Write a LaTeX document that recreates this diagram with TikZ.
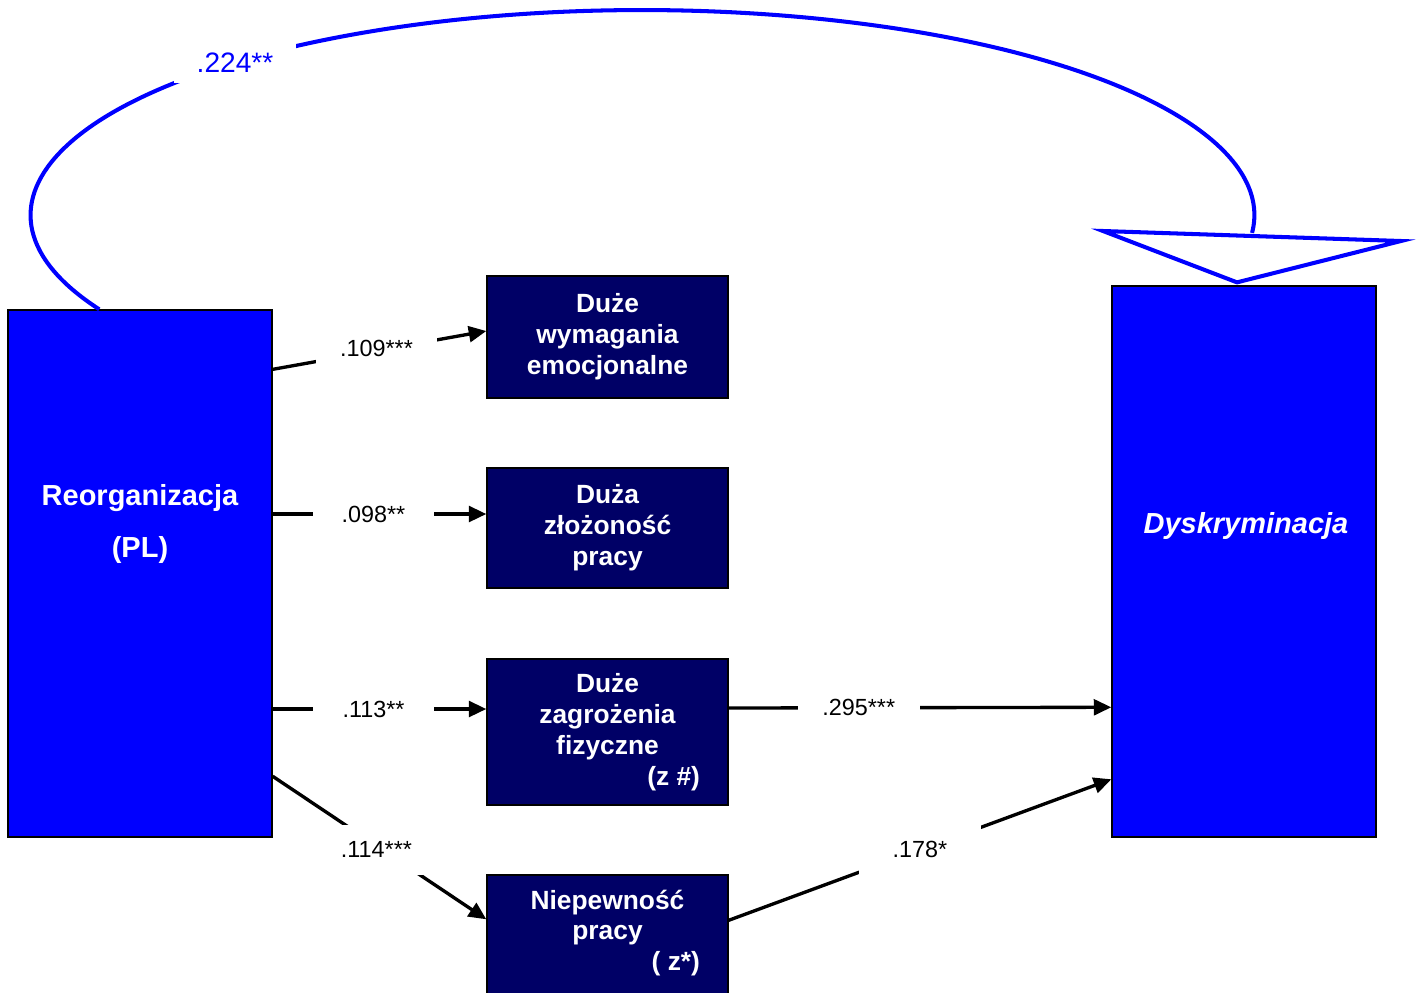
\documentclass[tikz,border=0pt]{standalone}
\usepackage{fontspec}
\setmainfont{Liberation Sans}
\usetikzlibrary{arrows.meta}
\definecolor{pureblue}{RGB}{0,0,255}
\definecolor{navybox}{RGB}{0,0,102}
\tikzset{
  bigbox/.style={draw=black, line width=0.8pt, fill=pureblue, minimum width=5.28cm, inner sep=0pt},
  smallbox/.style={draw=black, line width=0.8pt, fill=navybox, minimum width=4.82cm, inner sep=0pt,
    text=white, align=center, font=\bfseries\fontsize{15}{17.6}\selectfont},
  bigtext/.style={text=white, align=center, font=\bfseries\fontsize{16.5}{29.6}\selectfont},
  conn/.style={draw=black, line width=1.9pt, -{Triangle[length=10pt,width=9pt]}},
  coef/.style={fill=white, minimum width=2.44cm, minimum height=1cm, inner sep=0pt,
    font=\fontsize{13.3}{16}\selectfont},
  bluecoef/.style={fill=white, text=pureblue, minimum width=2.44cm, minimum height=0.8cm, inner sep=0pt,
    font=\fontsize{16}{19}\selectfont},
  bluecurve/.style={draw=pureblue, line width=2.3pt},
}
\begin{document}
\begin{tikzpicture}[x=0.02cm, y=-0.02cm]
\useasboundingbox (0,0) rectangle (1421,992);

% main variables
\node[bigbox, minimum height=10.54cm] (reorg) at (140,573.5) {};
\node[bigtext] (reorgtext) at (140,524) {Reorganizacja\\(PL)};
\node[bigbox, minimum height=11.02cm] (dysk) at (1244,561.5) {};
\node[text=white, font=\bfseries\itshape\fontsize{16.5}{20}\selectfont] (dysktext) at (1246,526) {Dyskryminacja};

% mediators
\node[smallbox, minimum height=2.44cm] (b1) at (607.5,337) {Duże\\wymagania\\emocjonalne};
\node[smallbox, minimum height=2.4cm] (b2) at (607.5,528) {Duża\\złożoność\\pracy};
\node[smallbox, minimum height=2.92cm] (b3) at (607.5,732)
  {Duże\\zagrożenia\\fizyczne\\\makebox[3.7cm][r]{(z \#)}};
\node[smallbox, minimum height=2.6cm] (b4) at (607.5,940) {};
\node[smallbox, draw=none, fill=none] (b4text) at (607.5,933)
  {Niepewność\\pracy\\\makebox[3.7cm][r]{( z*)}};

% paths from Reorganizacja
\draw[conn] ([yshift=-1.2cm]reorg.north east) -- ([yshift=0.12cm]b1.west)
  node[coef, midway, xshift=-0.06cm, yshift=0.04cm] {.109***};
\draw[conn] ([yshift=0.28cm]reorg.east |- b2.west) -- ([yshift=0.28cm]b2.west)
  node[coef, midway, xshift=-0.12cm] {.098**};
\draw[conn] ([yshift=0.46cm]reorg.east |- b3.west) -- ([yshift=0.46cm]b3.west)
  node[coef, midway, xshift=-0.12cm] {.113**};
\draw[conn] ([yshift=-9.34cm]reorg.north east) -- ([yshift=-0.9cm]b4.north west)
  node[coef, midway, xshift=-0.06cm, yshift=-0.04cm] {.114***};

% paths into Dyskryminacja
\draw[conn] ([yshift=0.48cm]b3.east) -- ([yshift=-8.44cm]dysk.north west)
  node[coef, pos=0.34] {.295***};
\draw[conn] ([yshift=-0.92cm]b4.north east) -- ([yshift=-9.88cm]dysk.north west)
  node[coef, midway] {.178*};

% direct effect: curved path with open arrowhead
\coordinate (tipL) at (1103,231);
\coordinate (tipR) at (1401,241);
\coordinate (apex) at ([xshift=-0.14cm, yshift=0.06cm]dysk.north);
\draw[bluecurve] ([xshift=1.84cm]reorg.north west)
  arc[start angle=207.4, end angle=-5, x radius=12.24cm, y radius=4.1cm];
\draw[bluecurve, line join=miter] (tipL) -- (tipR) -- (apex) -- cycle;
\node[bluecoef] (direct) at (235,63) {.224**};
\end{tikzpicture}
\end{document}
